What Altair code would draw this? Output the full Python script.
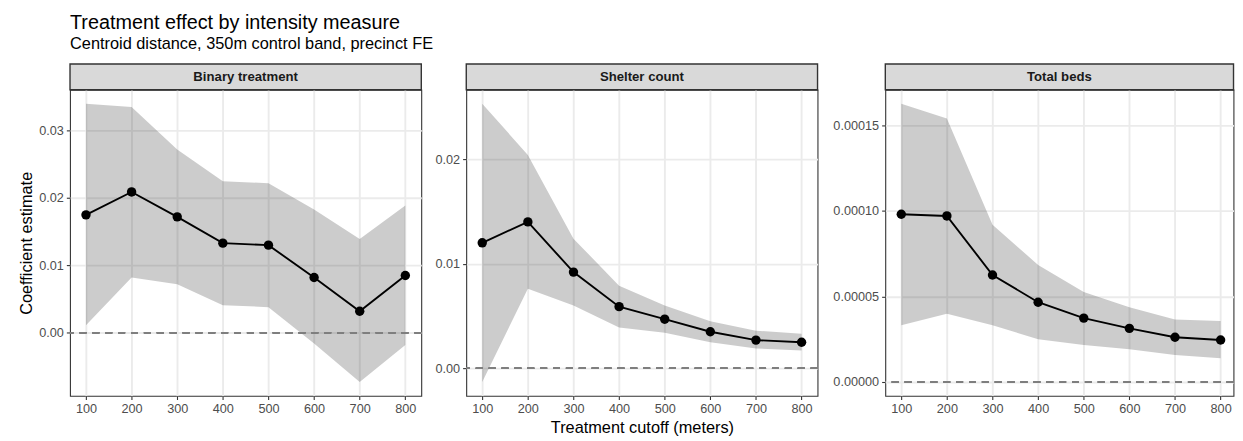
import altair as alt
import pandas as pd

# ---------------- data ----------------
cutoffs = [100, 200, 300, 400, 500, 600, 700, 800]
x_ticks = [100, 200, 300, 400, 500, 600, 700, 800]

panel_names = ["Binary treatment", "Shelter count", "Total beds"]

binary_est = [0.0175, 0.0209, 0.0172, 0.0133, 0.0130, 0.0082, 0.0032, 0.0085]
binary_lo = [0.0011, 0.0082, 0.0072, 0.0041, 0.0038, -0.0016, -0.0073, -0.0018]
binary_hi = [0.0340, 0.0335, 0.0272, 0.0225, 0.0222, 0.0183, 0.0139, 0.0189]

shelter_est = [0.0120, 0.0140, 0.0092, 0.0059, 0.0047, 0.0035, 0.0027, 0.0025]
shelter_lo = [-0.0013, 0.0076, 0.0060, 0.0039, 0.0034, 0.0025, 0.0019, 0.0017]
shelter_hi = [0.0253, 0.0204, 0.0124, 0.0079, 0.0060, 0.0045, 0.0036, 0.0033]

beds_est = [9.8e-5, 9.7e-5, 6.25e-5, 4.66e-5, 3.73e-5, 3.13e-5, 2.61e-5, 2.45e-5]
beds_lo = [3.32e-5, 3.98e-5, 3.32e-5, 2.49e-5, 2.16e-5, 1.91e-5, 1.58e-5, 1.39e-5]
beds_hi = [16.26e-5, 15.39e-5, 9.18e-5, 6.84e-5, 5.26e-5, 4.37e-5, 3.65e-5, 3.56e-5]

binary_ticks = [0.0, 0.01, 0.02, 0.03]
shelter_ticks = [0.0, 0.01, 0.02]
beds_ticks = [0.0, 0.00005, 0.00010, 0.00015]

title_text = "Treatment effect by intensity measure"
subtitle_text = "Centroid distance, 350m control band, precinct FE"
x_title = "Treatment cutoff (meters)"
y_title = "Coefficient estimate"

# ---------------- style ----------------
FONT = "Liberation Sans"
PANEL_H = 309
PANEL_W = 354.6
STRIP_H = 26
X_DOMAIN = [65, 835]
TICK_FS = 12.8
AXIS_TITLE_FS = 16.5


def panel(name, est, lo, hi, ticks, fmt, width, show_y_title, show_x_title):
    df = pd.DataFrame({"cutoff": cutoffs, "est": est, "lo": lo, "hi": hi})
    ymin = min(min(lo), 0.0)
    ymax = max(max(hi), 0.0)
    pad = 0.05 * (ymax - ymin)
    y_dom = [ymin - pad, ymax + pad]
    # keep the same pixels-per-unit as the full-width panels
    x_max = X_DOMAIN[0] + (X_DOMAIN[1] - X_DOMAIN[0]) * width / PANEL_W

    common_axis = dict(
        grid=True, gridColor="#EBEBEB", gridWidth=1.9,
        tickColor="#333333", tickSize=3.7, tickWidth=1.1,
        labelColor="#4D4D4D", labelFontSize=TICK_FS, labelFont=FONT,
        domain=False,
        titleFont=FONT, titleFontSize=AXIS_TITLE_FS, titleFontWeight="normal",
        titleColor="black",
    )
    xaxis = alt.Axis(values=x_ticks, format="d", title=x_title if show_x_title else None,
                     titlePadding=3.5, labelPadding=3.5, **common_axis)
    yaxis = alt.Axis(values=ticks, format=fmt, title=y_title if show_y_title else None,
                     titlePadding=4, labelPadding=3, **common_axis)

    x = alt.X("cutoff:Q", scale=alt.Scale(domain=[X_DOMAIN[0], x_max], nice=False, zero=False),
              axis=xaxis)
    yscale = alt.Scale(domain=y_dom, nice=False, zero=False)

    base = alt.Chart(df)
    ribbon = base.mark_area(color="black", opacity=0.2, clip=True).encode(
        x=x, y=alt.Y("lo:Q", scale=yscale, axis=yaxis), y2="hi:Q"
    )
    zero = base.mark_rule(color="#7F7F7F", strokeWidth=1.5, strokeDash=[7, 6]).encode(
        y=alt.datum(0.0)
    )
    line = base.mark_line(color="black", strokeWidth=1.9).encode(x=x, y=alt.Y("est:Q"))
    pts = base.mark_circle(color="black", opacity=1, size=90).encode(x=x, y=alt.Y("est:Q"))

    sdf = pd.DataFrame({"label": [name]})
    strip = alt.Chart(sdf).mark_rect(fill="#D9D9D9", stroke="#333333", strokeWidth=1.4).encode(
        x=alt.value(0), x2=alt.value(width), y=alt.value(-STRIP_H), y2=alt.value(0)
    )
    strip_text = alt.Chart(sdf).mark_text(
        font=FONT, fontSize=13.3, fontWeight="bold", color="#1A1A1A", baseline="middle", align="center"
    ).encode(text="label:N", x=alt.value(width / 2), y=alt.value(-STRIP_H / 2 + 0.5))

    return alt.layer(ribbon, zero, line, pts, strip, strip_text).properties(
        width=width, height=PANEL_H,
        view=alt.ViewBackground(stroke="#333333", strokeWidth=1.1, fill="white"),
    )


def spacer(w):
    sdf = pd.DataFrame({"a": [0]})
    return alt.Chart(sdf).mark_point(opacity=0).encode(
        x=alt.value(0), y=alt.value(0)
    ).properties(width=w, height=PANEL_H, view=alt.ViewBackground(stroke="transparent"))


p1 = panel(panel_names[0], binary_est, binary_lo, binary_hi, binary_ticks, ".2f", PANEL_W, True, False)
p2 = panel(panel_names[1], shelter_est, shelter_lo, shelter_hi, shelter_ticks, ".2f", PANEL_W, False, True)
p3 = panel(panel_names[2], beds_est, beds_lo, beds_hi, beds_ticks, ".5f", 351.5, False, False)

chart = alt.hconcat(
    p1, spacer(44.6), p2, spacer(67.4), p3, spacing=0, bounds="flush"
).resolve_scale(x="independent", y="independent").properties(
    title=alt.TitleParams(
        text=title_text, subtitle=subtitle_text, anchor="start", frame="group",
        font=FONT, fontSize=20, fontWeight="normal", color="black",
        subtitleFont=FONT, subtitleFontSize=16.5, subtitleColor="black",
        subtitlePadding=3, offset=10.5,
    ),
    padding={"left": 9.6, "top": 2.5, "right": 0, "bottom": 0},
).configure(font=FONT, background="white")

chart.save("out.html", embed_options={"renderer": "svg", "actions": False})
